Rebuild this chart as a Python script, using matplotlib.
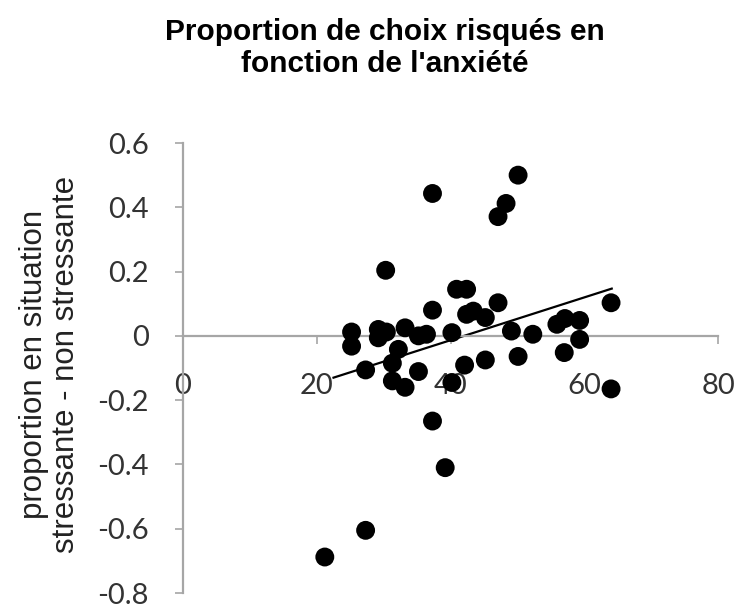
import matplotlib
matplotlib.use("Agg")
import matplotlib.pyplot as plt
import numpy as np

# Data
anxiety = [21.2, 25.2, 25.2, 27.3, 27.3, 29.2, 30.4, 29.2, 30.3, 31.3, 31.3, 32.2,
           33.2, 33.2, 35.2, 36.4, 35.2, 37.3, 37.3, 37.3, 39.2, 40.2, 40.2, 40.9,
           42.4, 42.4, 43.4, 42.1, 45.2, 45.2, 47.1, 47.1, 48.3, 50.1, 49.1, 50.1,
           52.3, 55.9, 57.1, 59.3, 59.3, 57.0, 64.0, 64.0]
proportion = [-0.688, 0.012, -0.032, -0.106, -0.605, 0.020, 0.012, -0.006, 0.204, -0.085,
              -0.140, -0.042, 0.025, -0.160, 0.000, 0.005, -0.111, 0.443, 0.080, -0.265,
              -0.410, 0.010, -0.145, 0.145, 0.145, 0.067, 0.077, -0.091, 0.057, -0.075,
              0.103, 0.371, 0.412, 0.500, 0.015, -0.064, 0.005, 0.036, 0.054, 0.048,
              -0.011, -0.052, 0.103, -0.165]
# Trendline (start/end)
trend_x = [22.5, 64.1]
trend_y = [-0.130, 0.147]

x_ticks = [0, 20, 40, 60, 80]
y_ticks = [-0.8, -0.6, -0.4, -0.2, 0, 0.2, 0.4, 0.6]
y_ticklabels = ["-0.8", "-0.6", "-0.4", "-0.2", "0", "0.2", "0.4", "0.6"]

title = "Proportion de choix risqués en\nfonction de l'anxiété"
ylabel = "proportion en situation\nstressante - non stressante"

fig = plt.figure(figsize=(7.38, 6.13), dpi=100)
ax = fig.add_axes([0.248, 0.0326, 0.725, 0.7341])

gray = "#a6a6a6"
ax.scatter(anxiety, proportion, s=185, color="black", edgecolors="none", zorder=3)
ax.plot(trend_x, trend_y, color="black", lw=1.6, zorder=2)

ax.set_xlim(0, 80)
ax.set_ylim(-0.8, 0.6)
ax.spines["top"].set_visible(False)
ax.spines["right"].set_visible(False)
ax.spines["bottom"].set_position(("data", 0))
ax.spines["bottom"].set_color(gray)
ax.spines["left"].set_color(gray)
ax.spines["bottom"].set_linewidth(1.6)
ax.spines["left"].set_linewidth(1.6)

ax.set_xticks(x_ticks)
ax.set_xticklabels([str(t) for t in x_ticks])
ax.set_yticks(y_ticks)
ax.set_yticklabels(y_ticklabels)

tickfont = "Lato"
ax.tick_params(axis="x", direction="out", length=5.8, width=1.2, color=gray,
               pad=21, labelsize=21, labelcolor="#333333")
ax.tick_params(axis="y", direction="out", length=5.8, width=1.2, color=gray,
               pad=19, labelsize=21, labelcolor="#333333")
for lab in ax.get_xticklabels() + ax.get_yticklabels():
    lab.set_fontfamily(tickfont)

ax.set_ylabel(ylabel, fontsize=22.5, family="Liberation Sans", color="#222222",
              linespacing=1.05, va="center", ha="center")
ax.yaxis.set_label_coords(-0.2486, 0.507)

fig.text(0.522, 0.922, title, ha="center", va="center",
         fontsize=21.5, fontweight="bold", family="Liberation Sans", linespacing=1.2)

fig.savefig("out.png", dpi=100)
